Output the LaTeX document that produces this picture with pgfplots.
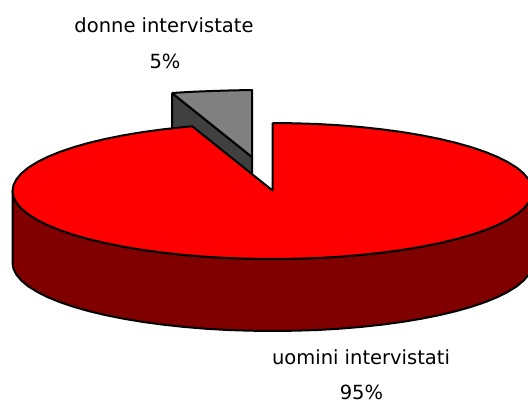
\documentclass[border=0pt]{standalone}
\usepackage{fontspec}
\setmainfont{DejaVu Sans}
\usepackage{pgfplots}
\pgfplotsset{compat=1.18}
\definecolor{pieRed}{RGB}{255,0,0}
\definecolor{pieRedDark}{RGB}{128,0,0}
\definecolor{pieGrey}{RGB}{128,128,128}
\definecolor{pieGreyDark}{RGB}{64,64,64}
\tikzset{pielabel/.style={font=\fontsize{19.5}{22}\selectfont, text=black, anchor=base, inner sep=0pt}}

\begin{document}
\begin{tikzpicture}
\begin{axis}[
  scale only axis, width=528pt, height=403pt,
  xmin=0, xmax=528, ymin=0, ymax=403, y dir=reverse,
  hide axis,
  every axis plot/.append style={draw=black, line width=2pt, line join=round, no markers},
]
% donne: wedge moved out of the pie
\addplot[fill=pieGreyDark] coordinates {
(172,93) (252,157) (252,229) (172,165) (172,93)
};
\addplot[fill=pieGrey] coordinates {
(172,93) (192,91.8) (212,91) (232,90.4) (252,90) (252,157) (172,93)
};
% wall of the big slice
\addplot[fill=pieRedDark] coordinates {
(532.5,191) (531.5,196.9) (528.5,202.8) (523.6,208.6) (516.8,214.3) (508.1,219.7)
(497.7,225) (485.5,230) (471.7,234.7) (456.3,239.1) (439.6,243.1) (421.6,246.7)
(402.5,249.9) (382.4,252.6) (361.4,254.9) (339.8,256.7) (317.6,258) (295.2,258.7)
(272.5,259) (249.8,258.7) (227.4,258) (205.2,256.7) (183.6,254.9) (162.6,252.6)
(142.5,249.9) (123.4,246.7) (105.4,243.1) (88.7,239.1) (73.3,234.7) (59.5,230)
(47.3,225) (36.9,219.7) (28.2,214.3) (21.4,208.6) (16.5,202.8) (13.5,196.9) (12.5,191)
(12.5,263) (13.5,268.9) (16.5,274.8) (21.4,280.6) (28.2,286.3) (36.9,291.7)
(47.3,297) (59.5,302) (73.3,306.7) (88.7,311.1) (105.4,315.1) (123.4,318.7)
(142.5,321.9) (162.6,324.6) (183.6,326.9) (205.2,328.7) (227.4,330) (249.8,330.7)
(272.5,331) (295.2,330.7) (317.6,330) (339.8,328.7) (361.4,326.9) (382.4,324.6)
(402.5,321.9) (421.6,318.7) (439.6,315.1) (456.3,311.1) (471.7,306.7) (485.5,302)
(497.7,297) (508.1,291.7) (516.8,286.3) (523.6,280.6) (528.5,274.8) (531.5,268.9)
(532.5,263) (532.5,191)
};
% top of the big slice
\addplot[fill=pieRed] coordinates {
(272.5,123) (295.2,123.3) (317.6,124) (339.8,125.3) (361.4,127.1) (382.4,129.4)
(402.5,132.1) (421.6,135.3) (439.6,138.9) (456.3,142.9) (471.7,147.3) (485.5,152)
(497.7,157) (508.1,162.3) (516.8,167.7) (523.6,173.4) (528.5,179.2) (531.5,185.1)
(532.5,191) (531.5,196.9) (528.5,202.8) (523.6,208.6) (516.8,214.3) (508.1,219.7)
(497.7,225) (485.5,230) (471.7,234.7) (456.3,239.1) (439.6,243.1) (421.6,246.7)
(402.5,249.9) (382.4,252.6) (361.4,254.9) (339.8,256.7) (317.6,258) (295.2,258.7)
(272.5,259) (249.8,258.7) (227.4,258) (205.2,256.7) (183.6,254.9) (162.6,252.6)
(142.5,249.9) (123.4,246.7) (105.4,243.1) (88.7,239.1) (73.3,234.7) (59.5,230)
(47.3,225) (36.9,219.7) (28.2,214.3) (21.4,208.6) (16.5,202.8) (13.5,196.9)
(12.5,191) (13.5,185.1) (16.5,179.2) (21.4,173.4) (28.2,167.7) (36.9,162.3)
(47.3,157) (59.5,152) (73.3,147.3) (88.7,142.9) (105.4,138.9) (123.4,135.3)
(142.5,132.1) (162.6,129.4) (183.6,127.1) (192.2,126.3)
(272.5,190.5) (272.5,123)
};
\node[pielabel] at (axis cs:164,33) {donne intervistate};
\node[pielabel] at (axis cs:165,69) {5\%};
\node[pielabel] at (axis cs:361,365) {uomini intervistati};
\node[pielabel] at (axis cs:361.5,400) {95\%};
\end{axis}
\pgfresetboundingbox
\useasboundingbox (0,0) rectangle (528pt,403pt);
\end{tikzpicture}
\end{document}
